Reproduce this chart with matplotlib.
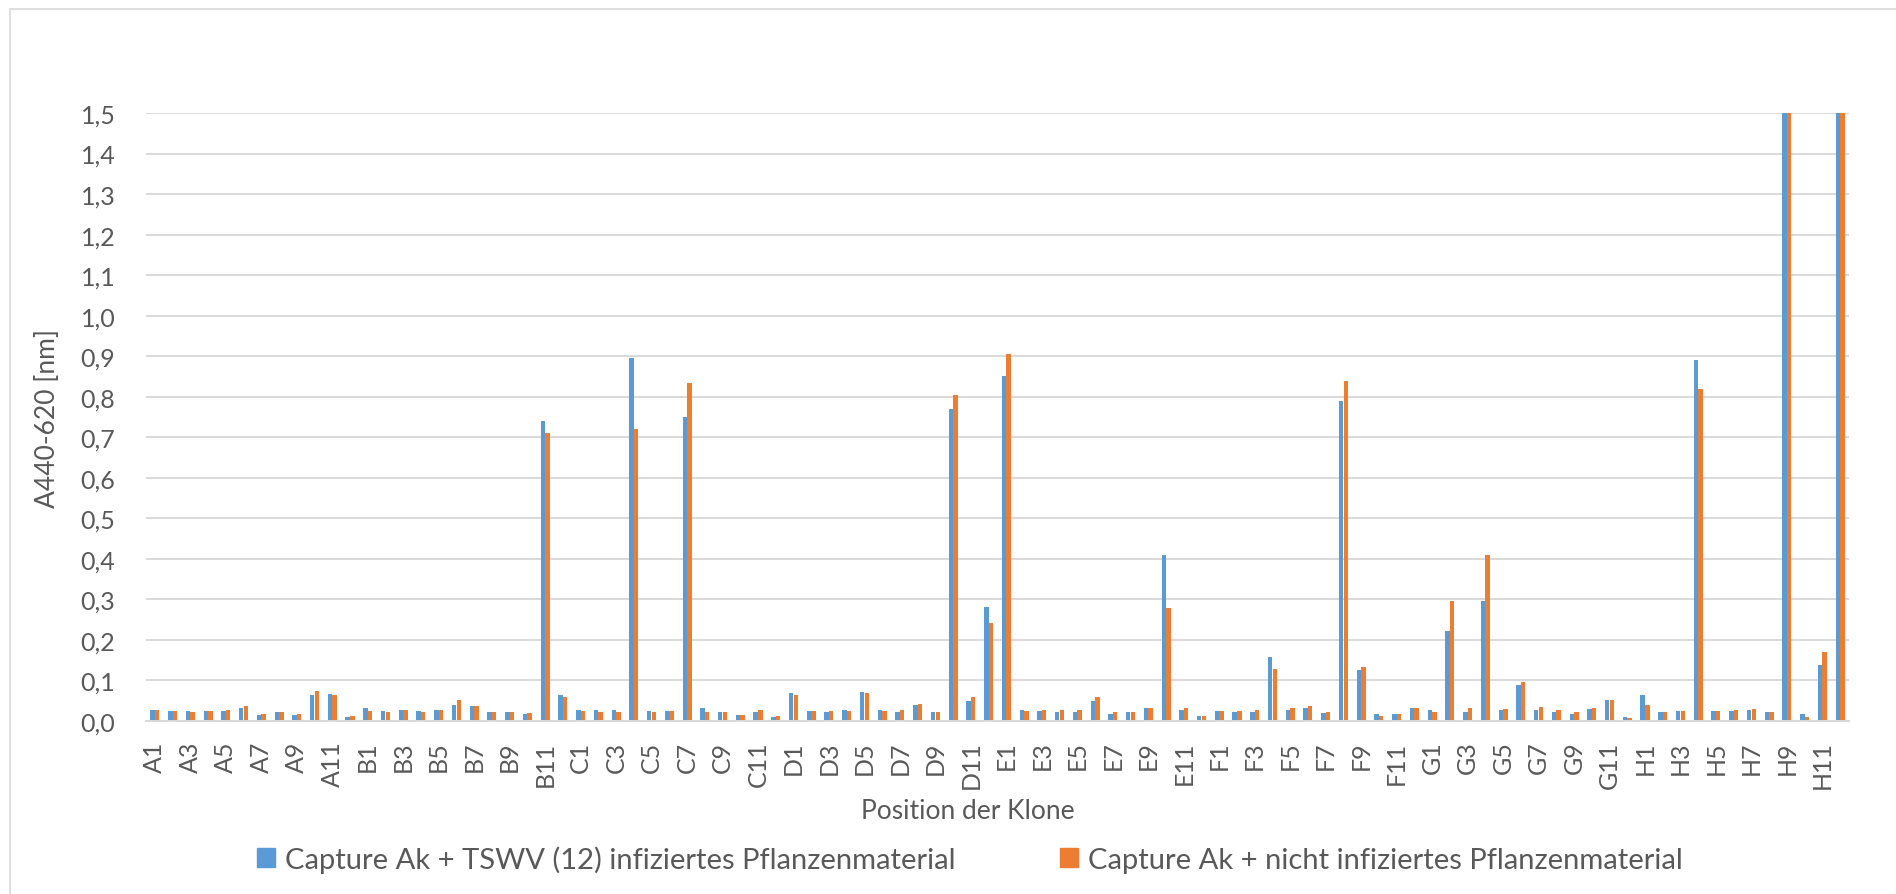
import numpy as np
import matplotlib
matplotlib.use("Agg")
import matplotlib.pyplot as plt
from matplotlib.patches import Rectangle

# Plate positions A1..H12
rows = ["A", "B", "C", "D", "E", "F", "G", "H"]
positions = [f"{r}{c}" for r in rows for c in range(1, 13)]

# Absorbance, TSWV (12) infected plant material
infected_A = [0.026, 0.024, 0.025, 0.025, 0.025, 0.033, 0.016, 0.021, 0.016, 0.065, 0.067, 0.010]
infected_B = [0.031, 0.025, 0.028, 0.025, 0.028, 0.040, 0.036, 0.021, 0.021, 0.017, 0.740, 0.064]
infected_C = [0.026, 0.027, 0.026, 0.895, 0.024, 0.025, 0.750, 0.033, 0.023, 0.016, 0.023, 0.010]
infected_D = [0.069, 0.024, 0.021, 0.026, 0.072, 0.026, 0.021, 0.040, 0.021, 0.770, 0.050, 0.281]
infected_E = [0.850, 0.028, 0.024, 0.021, 0.023, 0.050, 0.017, 0.021, 0.032, 0.410, 0.027, 0.013]
infected_F = [0.024, 0.021, 0.021, 0.159, 0.026, 0.033, 0.019, 0.790, 0.125, 0.017, 0.017, 0.032]
infected_G = [0.026, 0.222, 0.021, 0.295, 0.028, 0.088, 0.027, 0.021, 0.017, 0.029, 0.053, 0.010]
infected_H = [0.065, 0.023, 0.024, 0.890, 0.025, 0.024, 0.026, 0.021, 2.500, 0.017, 0.137, 2.500]

# Absorbance, non-infected plant material
healthy_A = [0.026, 0.024, 0.021, 0.025, 0.026, 0.036, 0.018, 0.021, 0.017, 0.074, 0.063, 0.012]
healthy_B = [0.024, 0.021, 0.028, 0.023, 0.028, 0.053, 0.038, 0.021, 0.021, 0.020, 0.710, 0.060]
healthy_C = [0.024, 0.021, 0.021, 0.720, 0.021, 0.024, 0.835, 0.021, 0.021, 0.016, 0.027, 0.012]
healthy_D = [0.064, 0.025, 0.025, 0.024, 0.070, 0.024, 0.026, 0.043, 0.021, 0.805, 0.058, 0.243]
healthy_E = [0.905, 0.025, 0.028, 0.026, 0.026, 0.058, 0.021, 0.021, 0.031, 0.278, 0.031, 0.013]
healthy_F = [0.025, 0.024, 0.026, 0.129, 0.031, 0.036, 0.023, 0.838, 0.132, 0.013, 0.017, 0.032]
healthy_G = [0.023, 0.295, 0.031, 0.410, 0.029, 0.095, 0.035, 0.026, 0.021, 0.031, 0.051, 0.008]
healthy_H = [0.039, 0.021, 0.024, 0.820, 0.025, 0.028, 0.029, 0.023, 2.500, 0.011, 0.169, 2.500]

infected = (infected_A + infected_B + infected_C + infected_D
            + infected_E + infected_F + infected_G + infected_H)
healthy = (healthy_A + healthy_B + healthy_C + healthy_D
           + healthy_E + healthy_F + healthy_G + healthy_H)

y_ticks = [i / 10 for i in range(16)]
y_tick_labels = [f"{v:.1f}".replace(".", ",") for v in y_ticks]

label_infected = "Capture Ak + TSWV (12) infiziertes Pflanzenmaterial"
label_healthy = "Capture Ak + nicht infiziertes Pflanzenmaterial"

BLUE = "#5B9BD5"
ORANGE = "#ED7D31"
GRID = "#D9D9D9"
TEXT = "#595959"

plt.rcParams["font.family"] = ["Lato", "DejaVu Sans"]

W, H = 1896, 895
fig = plt.figure(figsize=(W / 100, H / 100), dpi=100)

# Chart-area frame
frame = Rectangle((10 / W, -0.1), 1.2, (H - 10) / H + 0.1, transform=fig.transFigure,
                  fill=False, edgecolor=GRID, linewidth=1.2)
fig.add_artist(frame)

ax = fig.add_axes([146 / W, 1 - 722 / H, (1849 - 146) / W, (722 - 114) / H])

x = np.arange(len(positions))
bw = 0.25
ax.bar(x - 0.13, infected, width=bw, color=BLUE, label=label_infected, zorder=3)
ax.bar(x + 0.13, healthy, width=bw, color=ORANGE, label=label_healthy, zorder=3)

ax.set_xlim(-0.5, len(positions) - 0.5)
ax.set_ylim(0, 1.5)
ax.set_yticks(y_ticks)
ax.set_yticklabels(y_tick_labels)
ax.set_xticks(x[::2])
ax.set_xticklabels(positions[::2], rotation=90)

ax.grid(axis="y", color=GRID, linewidth=1.4, zorder=0)
ax.set_axisbelow(True)
for side in ["top", "right", "left"]:
    ax.spines[side].set_visible(False)
ax.spines["bottom"].set_color(GRID)
ax.spines["bottom"].set_linewidth(1.4)
ax.spines["bottom"].set_zorder(4)
ax.tick_params(axis="both", length=0, colors=TEXT, labelsize=18)
ax.tick_params(axis="y", pad=22)
ax.tick_params(axis="x", pad=14)

fig.text(48 / W, 1 - 418 / H, "A440-620 [nm]", rotation=90, ha="center", va="center",
         fontsize=19, color=TEXT)
fig.text(968 / W, 1 - 812 / H, "Position der Klone", ha="center", va="center",
         fontsize=19, color=TEXT)

handles = [Rectangle((0, 0), 1, 1, color=BLUE), Rectangle((0, 0), 1, 1, color=ORANGE)]
fig.legend(handles, [label_infected, label_healthy], loc="center",
           bbox_to_anchor=(970 / W, 1 - 860 / H), ncol=2, frameon=False,
           fontsize=21, labelcolor=TEXT, handlelength=0.6, handleheight=0.6,
           handletextpad=0.35, columnspacing=3.6)

fig.savefig("out.png", dpi=100)
